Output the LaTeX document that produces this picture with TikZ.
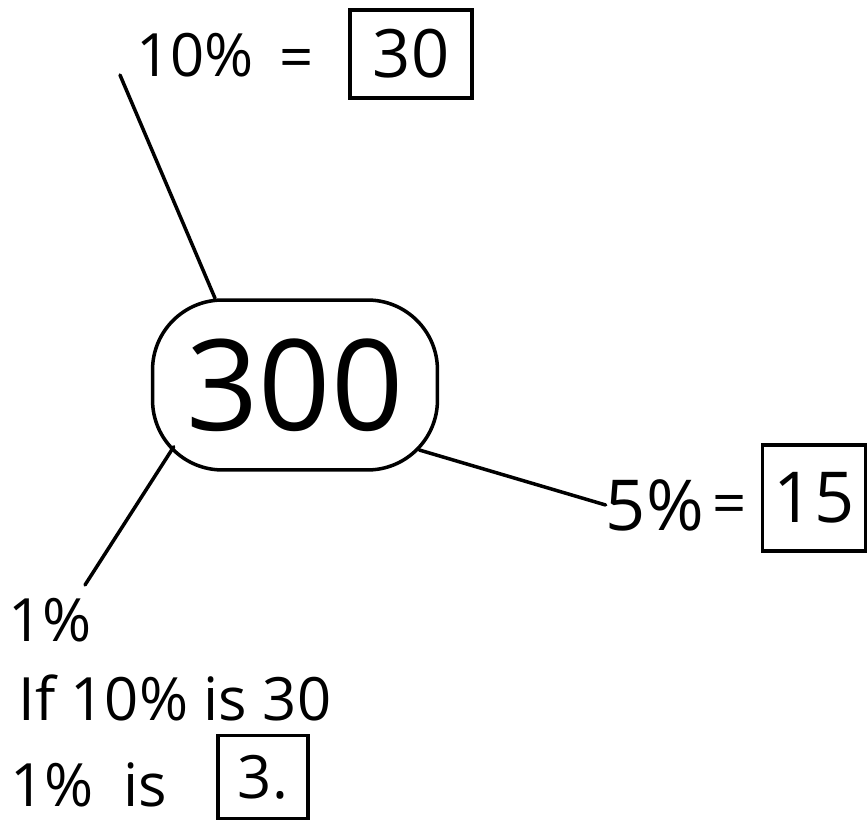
\documentclass[tikz,border=0pt]{standalone}
\usepackage{fontspec}
\setmainfont{Open Sans}
\usetikzlibrary{positioning}
\tikzset{
  blob/.style={draw, line width=2pt, rounded corners=1.4cm,
               minimum width=5.7cm, minimum height=3.4cm, inner sep=0pt,
               font=\fontsize{72}{74}\selectfont},
  answer/.style={draw, line width=2pt, inner sep=0pt},
  hand/.style={inner sep=0pt, font=\fontsize{34}{36}\selectfont},
  link/.style={line width=2pt, line cap=round},
}
\begin{document}
\begin{tikzpicture}[x=0.02cm, y=-0.02cm]
  \useasboundingbox (0,0) rectangle (867,820);
  \node[blob] (hub) at (295,385) {300};
  % top branch
  \node[hand] (tenpct) at (195,55) {10\%};
  \node[hand] (tenequal) at (297,64) {=};
  \node[answer,hand,minimum width=2.44cm,minimum height=1.76cm,font=\fontsize{38}{40}\selectfont] (thirty) at (411,54) {30};
  \coordinate (topend) at (120,75);
  \draw[link] ([xshift=-1.6cm]hub.north) -- (topend);
  % right branch
  \node[hand,font=\fontsize{40}{42}\selectfont] (fivepct) at (655,505) {5\%};
  \node[hand] (fiveequal) at (730,510) {=};
  \node[answer,hand,minimum width=2.06cm,minimum height=2.12cm,font=\fontsize{40}{42}\selectfont] (fifteen) at (814,498) {15};
  \draw[link] ([shift={(-0.4cm,-1.3cm)}]hub.east) -- (fivepct.west);
  % bottom branch
  \node[hand,anchor=west] (onepct) at (8,620) {1\%};
  \node[hand,anchor=west] (ifline) at (18,698) {If 10\% is 30};
  \node[hand,anchor=west] (isline) at (10,785) {1\%\enspace is};
  \node[answer,hand,minimum width=1.8cm,minimum height=1.66cm] (three) at (263,777) {3.};
  \coordinate (lowend) at (85,585);
  \draw[link] ([shift={(0.46cm,0.5cm)}]hub.south west) -- (lowend);
\end{tikzpicture}
\end{document}
